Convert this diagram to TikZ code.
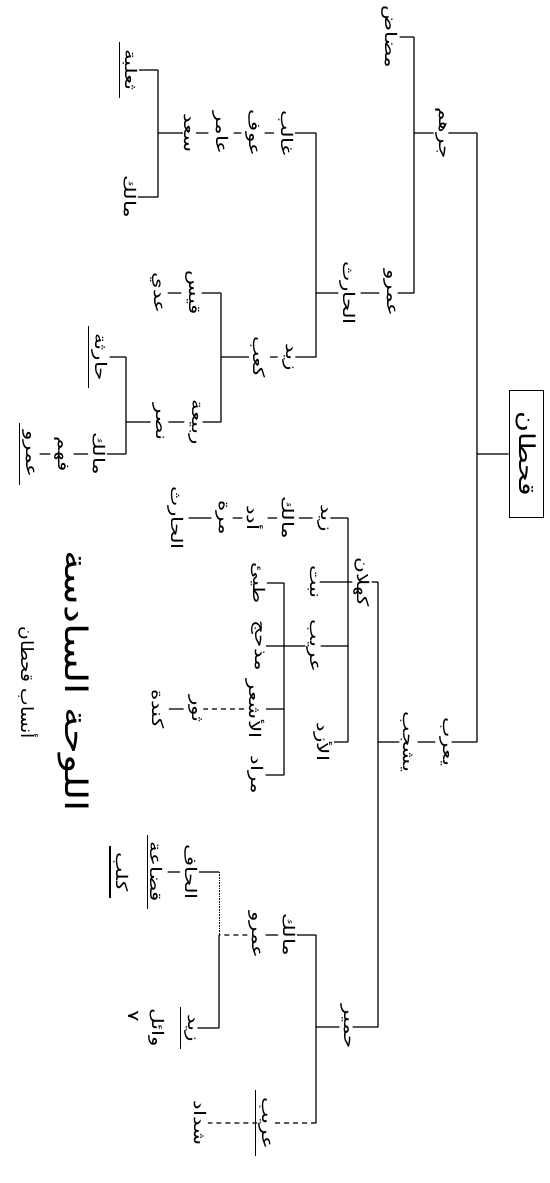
\documentclass[tikz,border=0pt]{standalone}
\usepackage{fontspec}
\newfontfamily\arabicfont[Script=Arabic]{DejaVu Sans}
\TeXXeTstate=1
\newcommand{\ar}[1]{\beginR #1\endR}

\begin{document}
\begin{tikzpicture}[x=1pt, y=-1pt, line width=1.2pt,
  ruotato/.style={rotate=-90, inner sep=1pt},
  nome/.style={ruotato, xscale=1.35, font=\arabicfont\fontsize{16}{18}\selectfont},
  radice/.style={ruotato, xscale=1.3, draw, line width=1pt, minimum width=98pt, minimum height=34pt,
    font=\arabicfont\fontsize{22}{24}\selectfont},
  titolo/.style={ruotato, xscale=1.3, font=\arabicfont\fontsize{31}{33}\selectfont},
  sottotitolo/.style={ruotato, xscale=1.1, font=\arabicfont\fontsize{17}{19}\selectfont},
  trattino/.style={shorten <=3pt, shorten >=3pt},
  tratteggio/.style={dash pattern=on 5pt off 4pt},
  punteggiato/.style={densely dotted, line width=0.6pt}]

% Riga sotto i nomi
\def\sotto#1{\draw ([xshift=-2pt,yshift=5pt]#1.south west) -- ([xshift=-2pt,yshift=-5pt]#1.south east);}

\useasboundingbox (0,0) rectangle (549,1183);

% Titolo
\node[titolo] (tit) at (73,681) {\ar{اللوحة السادسة}};
\node[sottotitolo] (sott) at (29,683) {\ar{أنساب قحطان}};

% Radice
\node[radice] (qahtan) at (526,454) {\ar{قحطان}};
\coordinate (s1) at (477,133);
\coordinate (s2) at (477,454);
\coordinate (s3) at (477,742);
\draw (qahtan) -- (s2) (s1) -- (s3);

% Jurhum
\node[nome] (jurhum) at (441,133) {\ar{جرهم}};
\coordinate (a1) at (414,37);
\coordinate (a2) at (414,133);
\coordinate (a3) at (414,293);
\draw (s1) -- (jurhum) (jurhum) -- (a2) (a1) -- (a3);
\node[nome] (madad) at (390,37) {\ar{مضاض}};
\draw (a1) -- (madad);
\node[nome] (amr1) at (390,293) {\ar{عمرو}};
\node[nome] (harith1) at (348,293) {\ar{الحارث}};
\coordinate (b1) at (316,133);
\coordinate (b2) at (316,293);
\coordinate (b3) at (316,357);
\draw (a3) -- (amr1) (harith1) -- (b2) (b1) -- (b3);
\draw[trattino] (amr1) -- (harith1);

% Figli alti
\node[nome] (ghalib) at (286,133) {\ar{غالب}};
\node[nome] (awf) at (253,133) {\ar{عوف}};
\node[nome] (amir) at (221,133) {\ar{عامر}};
\node[nome] (saad1) at (188,133) {\ar{سعد}};
\coordinate (c1) at (158,70);
\coordinate (c2) at (158,133);
\coordinate (c3) at (158,197);
\draw (b1) -- (ghalib) (saad1) -- (c2) (c1) -- (c3);
\draw[trattino] (ghalib) -- (awf);
\draw[trattino] (awf) -- (amir);
\draw[trattino] (amir) -- (saad1);
\node[nome] (thalaba) at (130,70) {\ar{ثعلبة}};
\node[nome] (malik1) at (130,197) {\ar{مالك}};
\draw (c1) -- (thalaba) (c3) -- (malik1);
\sotto{thalaba}

% Figli bassi
\node[nome] (zayd1) at (288,357) {\ar{زيد}};
\node[nome] (kab) at (258,357) {\ar{كعب}};
\coordinate (d1) at (221,293);
\coordinate (d2) at (221,357);
\coordinate (d3) at (221,422);
\draw (b3) -- (zayd1) (kab) -- (d2) (d1) -- (d3);
\draw[trattino] (zayd1) -- (kab);
\node[nome] (qays) at (193,293) {\ar{قيس}};
\node[nome] (adi) at (157,293) {\ar{عدي}};
\draw (d1) -- (qays);
\draw[trattino] (qays) -- (adi);
\node[nome] (rabia) at (195,422) {\ar{ربيعة}};
\node[nome] (nasr) at (158,422) {\ar{نصر}};
\coordinate (e1) at (126,357);
\coordinate (e2) at (126,422);
\coordinate (e3) at (126,454);
\draw (d3) -- (rabia) (nasr) -- (e2) (e1) -- (e3);
\draw[trattino] (rabia) -- (nasr);
\node[nome] (haritha) at (100,357) {\ar{حارثة}};
\draw (e1) -- (haritha);
\sotto{haritha}
\node[nome] (malik2) at (99,454) {\ar{مالك}};
\node[nome] (fahm) at (62,454) {\ar{فهم}};
\node[nome] (amr2) at (29,454) {\ar{عمرو}};
\draw (e3) -- (malik2);
\draw[trattino] (malik2) -- (fahm);
\draw[trattino] (fahm) -- (amr2);
\sotto{amr2}

% Yarub - Yashjub
\node[nome] (yarub) at (445,742) {\ar{يعرب}};
\node[nome] (yashjub) at (407,742) {\ar{يشجب}};
\coordinate (f1) at (378,582);
\coordinate (f2) at (378,742);
\coordinate (f3) at (378,1027);
\draw (s3) -- (yarub) (yashjub) -- (f2) (f1) -- (f3);
\draw[trattino] (yarub) -- (yashjub);

% Kahlan
\node[nome] (kahlan) at (362,582) {\ar{كهلان}};
\coordinate (g1) at (348,518);
\coordinate (g2) at (348,582);
\coordinate (g3) at (348,646);
\coordinate (g4) at (348,742);
\draw (f1) -- (kahlan) (kahlan) -- (g2) (g1) -- (g4);
\node[nome] (zayd2) at (323,518) {\ar{زيد}};
\node[nome] (malik3) at (288,518) {\ar{مالك}};
\node[nome] (udad) at (255,518) {\ar{أدد}};
\node[nome] (murra) at (222,518) {\ar{مرة}};
\node[nome] (harith2) at (176,518) {\ar{الحارث}};
\draw (g1) -- (zayd2);
\draw[trattino] (zayd2) -- (malik3);
\draw[trattino] (malik3) -- (udad);
\draw[trattino] (udad) -- (murra);
\draw[trattino] (murra) -- (harith2);
\node[nome] (nabt) at (313,582) {\ar{نبت}};
\draw (g2) -- (nabt);
\node[nome] (urayb1) at (313,646) {\ar{عريب}};
\coordinate (h1) at (284,583);
\coordinate (h2) at (284,646);
\coordinate (h3) at (284,709);
\coordinate (h4) at (284,775);
\draw (g3) -- (urayb1) (urayb1) -- (h2) (h1) -- (h4);
\node[nome] (tayy) at (258,583) {\ar{طيئ}};
\node[nome] (madhhij) at (258,646) {\ar{مذحج}};
\node[nome] (ashar) at (255,709) {\ar{الأشعر}};
\node[nome] (thawr) at (195,709) {\ar{ثور}};
\node[nome] (kinda) at (158,709) {\ar{كندة}};
\node[nome] (murad) at (256,775) {\ar{مراد}};
\draw (h1) -- (tayy) (h2) -- (madhhij) (h3) -- (ashar) (h4) -- (murad);
\draw[tratteggio] (ashar) -- (thawr);
\draw[trattino] (thawr) -- (kinda);
\node[nome] (azd) at (323,742) {\ar{الأزد}};
\draw (g4) -- (azd);

% Himyar
\node[nome] (himyar) at (346,1027) {\ar{حمير}};
\coordinate (i1) at (316,935);
\coordinate (i2) at (316,1027);
\coordinate (i3) at (316,1123);
\draw (f3) -- (himyar) (himyar) -- (i2) (i1) -- (i3);
\node[nome] (malik4) at (289,935) {\ar{مالك}};
\node[nome] (amr3) at (255,935) {\ar{عمرو}};
\coordinate (j1) at (219,872);
\coordinate (j2) at (219,935);
\coordinate (j3) at (219,1028);
\draw (i1) -- (malik4) (j2) -- (j3);
\draw[trattino] (malik4) -- (amr3);
\draw[tratteggio] (amr3) -- (j2);
\draw[punteggiato] (j1) -- (j2);
\node[nome] (alhaf) at (191,872) {\ar{الحاف}};
\node[nome] (qudaa) at (157,872) {\ar{قضاعة}};
\node[nome] (kalb) at (121,872) {\ar{كلب}};
\draw (j1) -- (alhaf);
\draw[trattino] (alhaf) -- (qudaa);
\sotto{qudaa}
\sotto{kalb}
\node[nome] (zayd3) at (190,1028) {\ar{زيد}};
\node[nome] (wail) at (157,1028) {\ar{وائل}};
\node[nome] (rif) at (134,1016) {\ar{٧}};
\draw (j3) -- (zayd3);
\sotto{zayd3}
\node[nome] (urayb2) at (265,1123) {\ar{عريب}};
\node[nome] (shaddad) at (200,1123) {\ar{شداد}};
\draw[tratteggio] (i3) -- (urayb2);
\draw[tratteggio] (urayb2) -- (shaddad);
\sotto{urayb2}

\end{tikzpicture}
\end{document}
